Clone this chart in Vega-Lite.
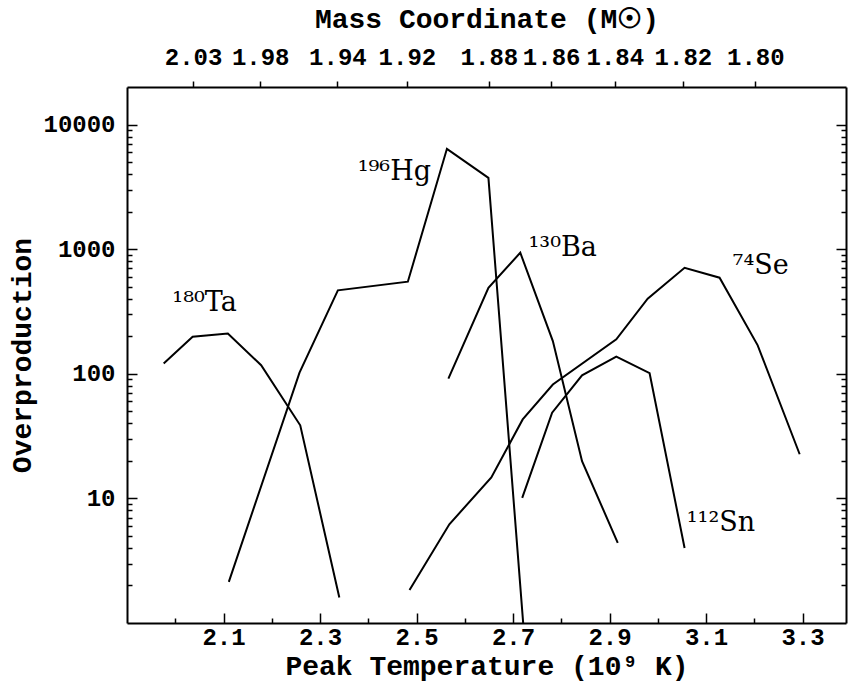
{
  "$schema": "https://vega.github.io/schema/vega-lite/v6.json",
  "width": 719,
  "height": 536,
  "autosize": {"type": "none"},
  "padding": {"left": 127, "top": 87, "right": 2, "bottom": 65},
  "background": "white",
  "config": {
    "view": {"stroke": null},
    "axis": {
      "grid": false,
      "domainColor": "black",
      "domainWidth": 2,
      "tickColor": "black",
      "tickWidth": 1.5,
      "labelColor": "black",
      "titleColor": "black",
      "labelFont": "Liberation Mono",
      "titleFont": "Liberation Mono",
      "labelFontSize": 24,
      "labelFontWeight": "bold",
      "titleFontSize": 28,
      "titleFontWeight": "bold",
      "labelOverlap": false,
      "labelFlush": false
    }
  },
  "datasets": {
    "curves": [
      {"isotope": "Ta180", "T": 1.976, "V": 121},
      {"isotope": "Ta180", "T": 2.036, "V": 198},
      {"isotope": "Ta180", "T": 2.109, "V": 210},
      {"isotope": "Ta180", "T": 2.178, "V": 117},
      {"isotope": "Ta180", "T": 2.259, "V": 38.6},
      {"isotope": "Ta180", "T": 2.340, "V": 1.6},
      {"isotope": "Hg196", "T": 2.111, "V": 2.14},
      {"isotope": "Hg196", "T": 2.2575, "V": 102},
      {"isotope": "Hg196", "T": 2.337, "V": 467},
      {"isotope": "Hg196", "T": 2.482, "V": 548},
      {"isotope": "Hg196", "T": 2.563, "V": 6380},
      {"isotope": "Hg196", "T": 2.649, "V": 3735},
      {"isotope": "Hg196", "T": 2.721, "V": 1.0},
      {"isotope": "Ba130", "T": 2.566, "V": 91.4},
      {"isotope": "Ba130", "T": 2.649, "V": 490},
      {"isotope": "Ba130", "T": 2.715, "V": 936},
      {"isotope": "Ba130", "T": 2.7825, "V": 183},
      {"isotope": "Ba130", "T": 2.843, "V": 19.9},
      {"isotope": "Ba130", "T": 2.917, "V": 4.4},
      {"isotope": "Se74", "T": 2.4855, "V": 1.84},
      {"isotope": "Se74", "T": 2.568, "V": 6.2},
      {"isotope": "Se74", "T": 2.655, "V": 14.7},
      {"isotope": "Se74", "T": 2.720, "V": 43},
      {"isotope": "Se74", "T": 2.7825, "V": 82},
      {"isotope": "Se74", "T": 2.914, "V": 189},
      {"isotope": "Se74", "T": 2.979, "V": 400},
      {"isotope": "Se74", "T": 3.0555, "V": 709},
      {"isotope": "Se74", "T": 3.128, "V": 590},
      {"isotope": "Se74", "T": 3.207, "V": 169},
      {"isotope": "Se74", "T": 3.294, "V": 22.6},
      {"isotope": "Sn112", "T": 2.719, "V": 10.1},
      {"isotope": "Sn112", "T": 2.781, "V": 48.7},
      {"isotope": "Sn112", "T": 2.843, "V": 97},
      {"isotope": "Sn112", "T": 2.914, "V": 137},
      {"isotope": "Sn112", "T": 2.983, "V": 101},
      {"isotope": "Sn112", "T": 3.0555, "V": 4.0}
    ],
    "labels": [
      {"label": "¹⁸⁰Ta", "T": 1.994, "V": 318},
      {"label": "¹⁹⁶Hg", "T": 2.378, "V": 3620},
      {"label": "¹³⁰Ba", "T": 2.732, "V": 879},
      {"label": "⁷⁴Se", "T": 3.155, "V": 626},
      {"label": "¹¹²Sn", "T": 3.060, "V": 5.48}
    ]
  },
  "layer": [
    {
      "data": {"name": "curves"},
      "mark": {"type": "line", "color": "black", "strokeWidth": 2, "clip": true},
      "encoding": {
        "x": {
          "field": "T",
          "type": "quantitative",
          "scale": {"domain": [1.9, 3.39], "nice": false, "zero": false},
          "axis": {
            "orient": "bottom",
            "title": "Peak Temperature (10⁹ K)",
            "values": [2.0, 2.1, 2.2, 2.3, 2.4, 2.5, 2.6, 2.7, 2.8, 2.9, 3.0, 3.1, 3.2, 3.3],
            "format": ".1f",
            "labelExpr": "(round(datum.value*10) % 2 == 1) ? datum.label : ''",
            "tickSize": {"condition": {"test": "round(datum.value*10) % 2 == 1", "value": -10}, "value": -5},
            "labelPadding": 12,
            "titlePadding": -2
          }
        },
        "y": {
          "field": "V",
          "type": "quantitative",
          "scale": {"type": "log", "domain": [1, 20000], "nice": false},
          "axis": {
            "orient": "left",
            "title": "Overproduction",
            "values": [2, 3, 4, 5, 6, 7, 8, 9, 10, 20, 30, 40, 50, 60, 70, 80, 90, 100, 200, 300, 400, 500, 600, 700, 800, 900, 1000, 2000, 3000, 4000, 5000, 6000, 7000, 8000, 9000, 10000],
            "format": "d",
            "labelExpr": "(datum.value == 10 || datum.value == 100 || datum.value == 1000 || datum.value == 10000) ? datum.label : ''",
            "tickSize": {"condition": {"test": "datum.value == 10 || datum.value == 100 || datum.value == 1000 || datum.value == 10000", "value": -10}, "value": -5},
            "labelPadding": 22,
            "titlePadding": 6
          }
        },
        "detail": {"field": "isotope"}
      }
    },
    {
      "data": {"name": "labels"},
      "mark": {"type": "text", "align": "left", "baseline": "alphabetic", "font": "DejaVu Serif", "fontSize": 27, "color": "black"},
      "encoding": {
        "x": {
          "field": "T",
          "type": "quantitative",
          "scale": {"domain": [1.9, 3.39], "nice": false, "zero": false},
          "axis": {
            "orient": "top",
            "title": "Mass Coordinate (M☉)",
            "values": [2.037, 2.176, 2.336, 2.480, 2.650, 2.779, 2.911, 3.052, 3.202],
            "labelExpr": "datum.value < 2.1 ? '2.03' : datum.value < 2.25 ? '1.98' : datum.value < 2.4 ? '1.94' : datum.value < 2.55 ? '1.92' : datum.value < 2.7 ? '1.88' : datum.value < 2.85 ? '1.86' : datum.value < 2.98 ? '1.84' : datum.value < 3.1 ? '1.82' : '1.80'",
            "tickSize": 6,
            "labelPadding": 12,
            "titlePadding": 12
          }
        },
        "y": {
          "field": "V",
          "type": "quantitative",
          "scale": {"type": "log", "domain": [1, 20000], "nice": false},
          "axis": {
            "orient": "right",
            "title": null,
            "labels": false,
            "values": [2, 3, 4, 5, 6, 7, 8, 9, 10, 20, 30, 40, 50, 60, 70, 80, 90, 100, 200, 300, 400, 500, 600, 700, 800, 900, 1000, 2000, 3000, 4000, 5000, 6000, 7000, 8000, 9000, 10000],
            "tickSize": {"condition": {"test": "datum.value == 10 || datum.value == 100 || datum.value == 1000 || datum.value == 10000", "value": -10}, "value": -5}
          }
        },
        "text": {"field": "label"}
      }
    }
  ],
  "resolve": {"scale": {"x": "independent", "y": "independent"}}
}
